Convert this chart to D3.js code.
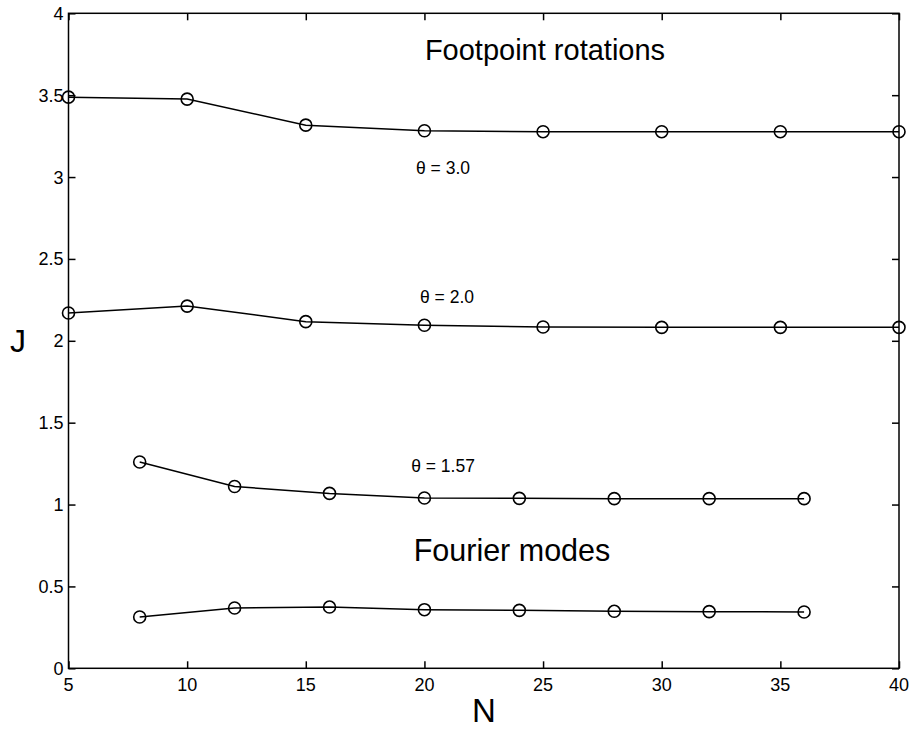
<!DOCTYPE html>
<html>
<head>
<meta charset="utf-8">
<script src="https://cdn.jsdelivr.net/npm/d3@7"></script>
<style>
  body { margin: 0; background: #fff; }
  svg { display: block; font-family: "Liberation Sans", Arial, Helvetica, sans-serif; }
</style>
</head>
<body>
<svg id="chart" width="911" height="729"></svg>
<script>
// footpoint rotations, N = 5..40
const footN = [5, 10, 15, 20, 25, 30, 35, 40];
const theta30 = [3.488, 3.476, 3.317, 3.283, 3.277, 3.277, 3.277, 3.277];
const theta20 = [2.170, 2.212, 2.117, 2.095, 2.084, 2.082, 2.082, 2.082];

// fourier modes, N = 8..36
const fourN = [8, 12, 16, 20, 24, 28, 32, 36];
const theta157 = [1.260, 1.110, 1.068, 1.040, 1.038, 1.036, 1.036, 1.036];
const fourLow = [0.313, 0.368, 0.374, 0.358, 0.354, 0.348, 0.346, 0.344];

const xTicks = [5, 10, 15, 20, 25, 30, 35, 40];
const yTicks = [0, 0.5, 1, 1.5, 2, 2.5, 3, 3.5, 4];

const series = [
  {xs: footN, ys: theta30},
  {xs: footN, ys: theta20},
  {xs: fourN, ys: theta157},
  {xs: fourN, ys: fourLow}
];

const svg = d3.select('#chart');
const plotL = 68.5, plotR = 899, plotT = 13.3, plotB = 668.3;

const x = d3.scaleLinear().domain([5, 40]).range([plotL, plotR]);
const y = d3.scaleLinear().domain([0, 4]).range([plotB, plotT]);

const tickLen = 7;

// frame
svg.append('rect')
  .attr('x', plotL).attr('y', plotT)
  .attr('width', plotR - plotL).attr('height', plotB - plotT)
  .attr('fill', 'none').attr('stroke', '#000').attr('stroke-width', 1.5);

// axes (ticks pointing inward, matlab style)
const xAxis = svg.append('g').attr('transform', `translate(0,${plotB})`)
  .call(d3.axisTop(x).tickValues(xTicks).tickSize(tickLen).tickFormat(''));
const xAxisTop = svg.append('g').attr('transform', `translate(0,${plotT})`)
  .call(d3.axisBottom(x).tickValues(xTicks).tickSize(tickLen).tickFormat(''));
const yAxis = svg.append('g').attr('transform', `translate(${plotL},0)`)
  .call(d3.axisRight(y).tickValues(yTicks).tickSize(tickLen).tickFormat(''));
const yAxisRight = svg.append('g').attr('transform', `translate(${plotR},0)`)
  .call(d3.axisLeft(y).tickValues(yTicks).tickSize(tickLen).tickFormat(''));

[xAxis, xAxisTop, yAxis, yAxisRight].forEach((g) => {
  g.select('.domain').remove();
  g.selectAll('line').attr('stroke', '#000').attr('stroke-width', 1.5);
});

// tick labels
svg.append('g').selectAll('text').data(xTicks).join('text')
  .attr('x', (d) => x(d)).attr('y', plotB + 23)
  .attr('text-anchor', 'middle').attr('font-size', 18)
  .text((d) => d);

svg.append('g').selectAll('text').data(yTicks).join('text')
  .attr('x', plotL - 5).attr('y', (d) => y(d) + 6.5)
  .attr('text-anchor', 'end').attr('font-size', 18)
  .text((d) => d);

// lines + circle markers
const line = d3.line().x((d) => x(d[0])).y((d) => y(d[1]));

series.forEach((s) => {
  const pts = s.xs.map((v, i) => [v, s.ys[i]]);
  svg.append('path').datum(pts)
    .attr('d', line)
    .attr('fill', 'none').attr('stroke', '#000').attr('stroke-width', 1.5);
  svg.append('g').selectAll('circle').data(pts).join('circle')
    .attr('cx', (d) => x(d[0])).attr('cy', (d) => y(d[1]))
    .attr('r', 6)
    .attr('fill', 'none').attr('stroke', '#000').attr('stroke-width', 1.6);
});

// annotations
svg.append('text').attr('x', 545).attr('y', 60)
  .attr('text-anchor', 'middle').attr('font-size', 29)
  .text('Footpoint rotations');
svg.append('text').attr('x', 512).attr('y', 561)
  .attr('text-anchor', 'middle').attr('font-size', 30.5)
  .text('Fourier modes');

svg.append('text').attr('x', 443).attr('y', 174)
  .attr('text-anchor', 'middle').attr('font-size', 17.5)
  .text('θ = 3.0');
svg.append('text').attr('x', 447).attr('y', 303)
  .attr('text-anchor', 'middle').attr('font-size', 17.5)
  .text('θ = 2.0');
svg.append('text').attr('x', 443).attr('y', 472)
  .attr('text-anchor', 'middle').attr('font-size', 17.5)
  .text('θ = 1.57');

// axis titles
svg.append('text').attr('x', 484).attr('y', 722)
  .attr('text-anchor', 'middle').attr('font-size', 33)
  .text('N');
svg.append('text').attr('x', 18).attr('y', 352)
  .attr('text-anchor', 'middle').attr('font-size', 32)
  .text('J');
</script>
</body>
</html>
